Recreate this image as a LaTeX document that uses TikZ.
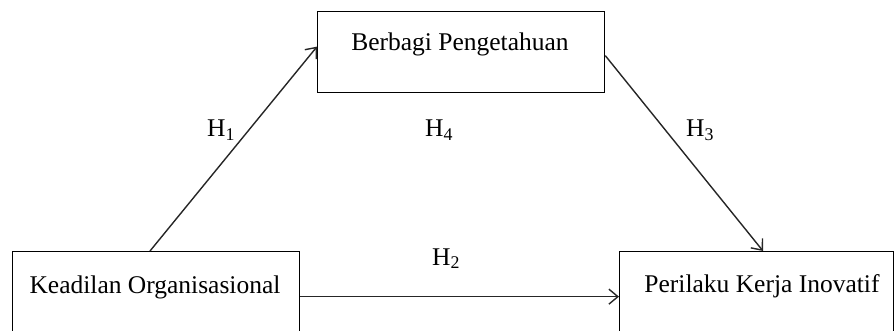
\documentclass[tikz,border=0pt]{standalone}
\usepackage{fontspec}
\setmainfont{Liberation Serif}
\usetikzlibrary{arrows.meta}
\begin{document}
\begin{tikzpicture}[x=1pt,y=-1pt,
  box/.style={draw=black,line width=1.3pt,rectangle,inner sep=0pt,anchor=north west},
  txt/.style={inner sep=0pt,anchor=base,font=\fontsize{25.5}{30}\selectfont},
  hyp/.style={inner sep=0pt,anchor=base west,font=\fontsize{25.5}{30}\selectfont},
  conn/.style={draw=black!85,line width=1.4pt,-{Straight Barb[length=9pt,width=15pt,line width=1.4pt]}}]
\useasboundingbox (0,0) rectangle (894,331);
\clip (0,0) rectangle (894,331);
\node[box,minimum width=287pt,minimum height=81pt] (bp) at (317,11) {};
\node[box,minimum width=287pt,minimum height=90pt] (ko) at (12,251) {};
\node[box,minimum width=274pt,minimum height=90pt] (pk) at (619,251) {};
\node[txt] (tbp) at (460,51) {Berbagi Pengetahuan};
\node[txt] (tko) at (155,293) {Keadilan Organisasional};
\node[txt] (tpk) at (762,292) {Perilaku Kerja Inovatif};
\draw[conn] ([xshift=138pt]ko.north west) -- ([yshift=5.5pt]bp.west);
\draw[conn] ([yshift=-3.5pt]bp.east) -- ([xshift=144pt]pk.north west);
\draw[conn] (ko.east) -- (pk.west);
\node[hyp] (h1) at (207,137) {H\textsubscript{1}};
\node[hyp] (h4) at (425,137) {H\textsubscript{4}};
\node[hyp] (h3) at (686,137) {H\textsubscript{3}};
\node[hyp] (h2) at (432,265) {H\textsubscript{2}};
\end{tikzpicture}
\end{document}
